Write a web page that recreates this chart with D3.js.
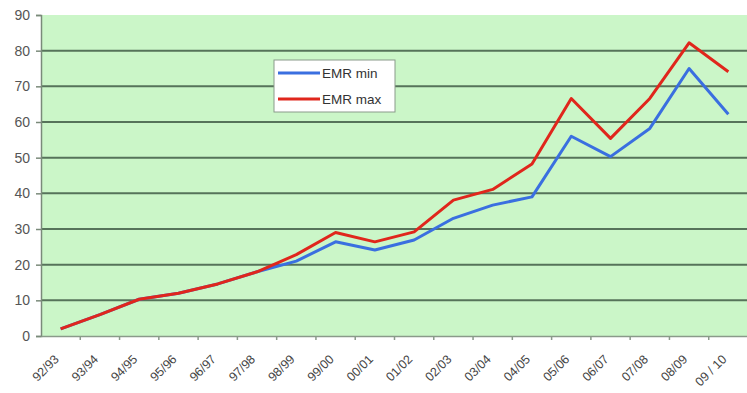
<!DOCTYPE html>
<html><head><meta charset="utf-8">
<script src="https://cdn.jsdelivr.net/npm/d3@7"></script>
<style>body{margin:0;background:#fff;}svg{display:block;font-family:Arial,"Liberation Sans",sans-serif;}</style>
</head><body>
<svg id="c" width="747" height="393"></svg>
<script>
const categories = ["92/93","93/94","94/95","95/96","96/97","97/98","98/99","99/00","00/01","01/02","02/03","03/04","04/05","05/06","06/07","07/08","08/09","09 / 10"];
const emrMin = [2,6,10.3,12,14.6,18,21,26.4,24.1,26.9,33,36.7,39,56,50.3,58.2,75,62.2];
const emrMax = [2,6,10.3,12,14.6,18,22.8,29,26.4,29.2,38.1,41.1,48.2,66.6,55.4,66.6,82.2,74.1];
const yTicks = [0,10,20,30,40,50,60,70,80,90];
const seriesNames = ["EMR min","EMR max"];
const seriesColors = ["#3a6fe0","#e0261c"];

const svg = d3.select("#c");
const m = {l:41, t:15};
const W = 747;
const x = d3.scaleBand().domain(categories).range([m.l, 748]);
const y = d3.scaleLinear().domain([0,90]).range([336, m.t]);

svg.append("rect").attr("x", m.l).attr("y", m.t).attr("width", 748-m.l).attr("height", 336-m.t).attr("fill","#cbf6c8");

// gridlines
svg.append("g").selectAll("line").data(yTicks.filter(d=>d>0 && d<90)).join("line")
  .attr("x1", m.l).attr("x2", W).attr("y1", d=>y(d)).attr("y2", d=>y(d))
  .attr("stroke","#56735a").attr("stroke-width",2);

// y axis
const ya = svg.append("g").attr("transform",`translate(${m.l},0)`)
  .call(d3.axisLeft(y).tickValues(yTicks).tickSize(5).tickPadding(6));
ya.select(".domain").attr("stroke","#7a8a7a").attr("stroke-width",1.5);
ya.selectAll(".tick line").attr("stroke","#7a8a7a").attr("stroke-width",1.5);
ya.selectAll("text").attr("font-size",14).attr("fill","#555").attr("font-family","Arial, Liberation Sans, sans-serif");

// x axis
const xa = svg.append("g").attr("transform",`translate(0,336)`)
  .call(d3.axisBottom(x).tickSize(0).tickPadding(0));
xa.select(".domain").attr("stroke","#8a9a8a").attr("stroke-width",1.5);
xa.selectAll(".tick text").attr("font-size",12.5).attr("fill","#444")
  .attr("font-family","Arial, Liberation Sans, sans-serif")
  .attr("text-anchor","end").attr("dy",0)
  .attr("transform","translate(-1,24) rotate(-45)");
// tick marks between categories
svg.append("g").selectAll("line").data(categories.slice(1)).join("line")
  .attr("x1", d=>x(d)).attr("x2", d=>x(d)).attr("y1",336).attr("y2",340)
  .attr("stroke","#8a9a8a").attr("stroke-width",1.5);

// lines
const line = d3.line().x((d,i)=>x(categories[i])+x.bandwidth()/2).y(d=>y(d));
[emrMin, emrMax].forEach((s,k)=>{
  svg.append("path").datum(s).attr("d", line).attr("fill","none")
    .attr("stroke", seriesColors[k]).attr("stroke-width",3).attr("stroke-linejoin","round");
});

// legend
const lg = svg.append("g");
lg.append("rect").attr("x",274).attr("y",60).attr("width",121).attr("height",52)
  .attr("fill","#fff").attr("stroke","#8a9a8a").attr("stroke-width",1);
seriesNames.forEach((n,k)=>{
  const yy = 73 + k*26;
  lg.append("line").attr("x1",278).attr("x2",320).attr("y1",yy).attr("y2",yy)
    .attr("stroke",seriesColors[k]).attr("stroke-width",3);
  lg.append("text").attr("x",322).attr("y",yy+5).text(n).attr("font-size",13.5).attr("fill","#333");
});
</script>
</body></html>
